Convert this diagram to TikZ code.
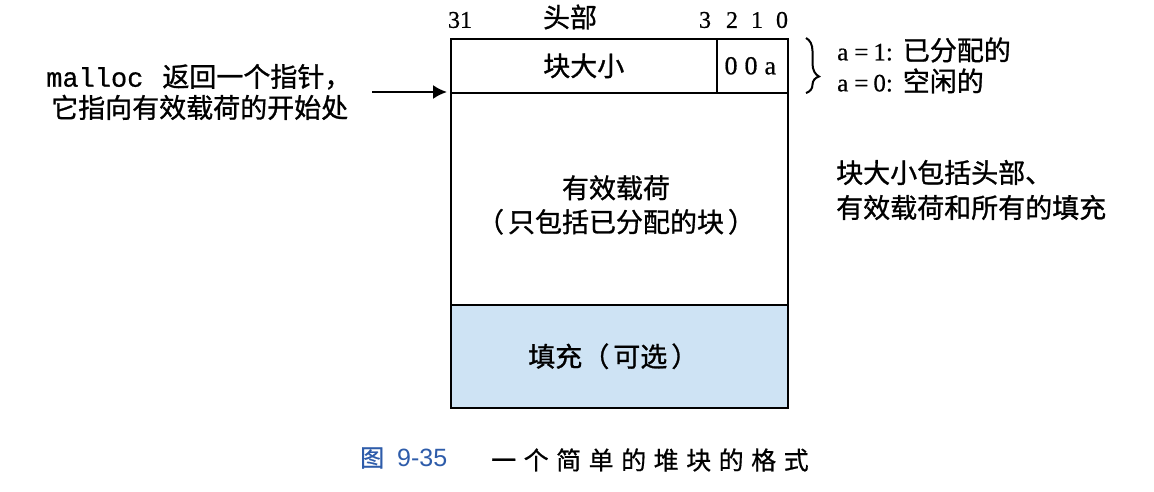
\documentclass[tikz,border=0pt]{standalone}
\usepackage{fontspec}
\setmainfont{Liberation Serif}[FakeBold=0.6]
\setsansfont{Liberation Sans}
\setmonofont{Liberation Mono}[FakeBold=0.6]
\newfontfamily\cjk{Noto Sans CJK SC}[FakeBold=1.0]
\newfontfamily\cjkcap{Noto Sans CJK SC}[FakeBold=0.6]
\usetikzlibrary{arrows.meta,decorations.pathreplacing}
\definecolor{padblue}{RGB}{206,227,244}
\definecolor{capblue}{RGB}{46,92,170}
\newcommand\zh[1]{{\cjk\fontsize{27}{34}\selectfont #1}}
\begin{document}
\begin{tikzpicture}[x=1pt,y=-1pt,
  cell/.style={draw=black,line width=1.6pt,inner sep=0pt,anchor=north west},
  zhtext/.style={font=\cjk\fontsize{27}{34}\selectfont,inner sep=0pt},
  lat/.style={font=\fontsize{24}{28}\selectfont,inner sep=0pt},
  ptrarrow/.style={-{Latex[length=14pt,width=14pt]},line width=2pt,shorten >=3pt},
  bracestyle/.style={decorate,decoration={brace,amplitude=13pt,aspect=0.7},line width=2pt}]
\useasboundingbox[fill=white] (0,0) rectangle (1154,492);

% header cells
\node[cell,zhtext,minimum width=266pt,minimum height=54pt] (size) at (450,38) {块大小};
\node[cell,minimum width=71pt,minimum height=54pt,font=\fontsize{26}{28}\selectfont] (flags) at (716,38) {\hspace{-4pt}0\hspace{7pt}0\hspace{7pt}a};
% payload
\node[cell,minimum width=337pt,minimum height=212pt] (payload) at (450,92) {};
\node[zhtext,align=center] (paytxt) at (616,205) {有效载荷\\（\hspace{4pt}只包括已分配的块\hspace{4pt}）};
% padding
\node[cell,zhtext,fill=padblue,minimum width=337pt,minimum height=103pt] (pad) at (450,304) {\hspace{-12pt}填充（\hspace{4pt}可选\hspace{4pt}）};

% top bit labels
\node[lat] (b31) at (460,20) {31};
\node[zhtext] (hdr) at (570,17) {头部};
\node[lat] (b3) at (705,20) {3};
\node[lat] (b2) at (732,20) {2};
\node[lat] (b1) at (757,20) {1};
\node[lat] (b0) at (782,20) {0};

% left pointer text
\node[zhtext,font=\cjk\fontsize{27}{31}\selectfont,align=left,anchor=west] (mtext) at (46,92)
  {{\ttfamily malloc}\hspace{19pt}返回一个指针，\\\hspace{5pt}它指向有效载荷的开始处};
\coordinate (ptrstart) at (372,92);
\draw[ptrarrow] (ptrstart) -- (ptrstart -| size.west);

% brace and flag legend
\coordinate (bt) at (806,38);
\coordinate (bb) at (806,93);
\draw[bracestyle] (bt) -- (bb);
\node[lat,font=\fontsize{25}{28}\selectfont,anchor=west] (a1) at (837,50) {a\hspace{6pt}=\hspace{5pt}1:\hspace{10pt}\zh{已分配的}};
\node[lat,font=\fontsize{25}{28}\selectfont,anchor=west] (a0) at (837,81) {a\hspace{6pt}=\hspace{5pt}0:\hspace{10pt}\zh{空闲的}};

% size note
\node[zhtext,font=\cjk\fontsize{27}{35}\selectfont,align=left,anchor=west] (note) at (836,190)
  {块大小包括头部、\\有效载荷和所有的填充};

% caption
\node[anchor=west,inner sep=0pt,text=capblue] (capnum) at (360,458)
  {{\cjkcap\fontsize{24}{28}\selectfont 图}\hspace{13pt}{\sffamily\fontsize{25}{28}\selectfont 9-35}};
\node[anchor=west,inner sep=0pt,font=\cjkcap\fontsize{25}{28}\selectfont] (captxt) at (491,460)
  {一\kern7.5pt 个\kern7.5pt 简\kern7.5pt 单\kern7.5pt 的\kern7.5pt 堆\kern7.5pt 块\kern7.5pt 的\kern7.5pt 格\kern7.5pt 式};
\end{tikzpicture}
\end{document}
